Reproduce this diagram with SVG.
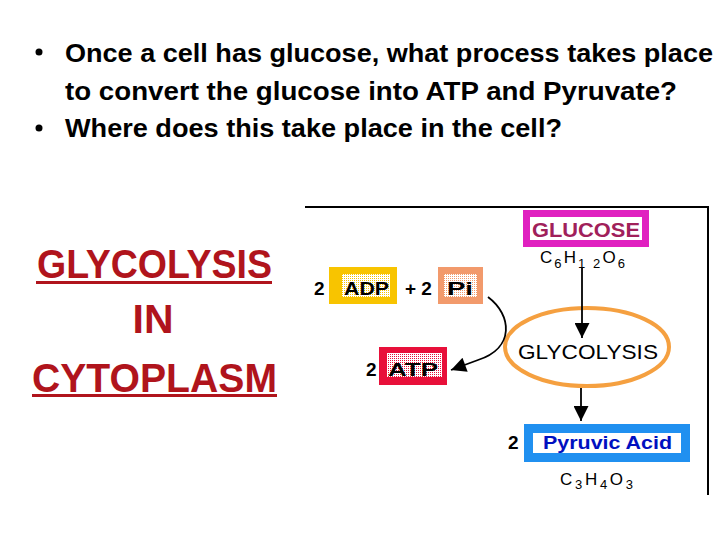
<svg xmlns="http://www.w3.org/2000/svg" width="720" height="540" viewBox="0 0 720 540">
<style>
.hdr{font-family:"Liberation Sans",Arial,sans-serif;font-weight:bold;font-size:25px;fill:#000}
.big{font-family:"Liberation Sans",Arial,sans-serif;font-weight:bold;font-size:41px;fill:#B0141C}
.lbl{font-family:"Liberation Sans",Arial,sans-serif;font-weight:bold;font-size:19px;fill:#000}
.frm{font-family:"Liberation Sans",Arial,sans-serif;font-size:17px;fill:#000}
.sub{font-size:13px}
.conn{fill:none;stroke:#000;stroke-width:1.8}
</style>
<defs>
<pattern id="dotY" width="2" height="2" patternUnits="userSpaceOnUse"><rect width="2" height="2" fill="#fff"/><rect width="1" height="1" fill="#F8C400"/></pattern>
<pattern id="dotP" width="2" height="2" patternUnits="userSpaceOnUse"><rect width="2" height="2" fill="#fff"/><rect width="1" height="1" fill="#F29A6C"/></pattern>
<pattern id="dotR" width="2" height="2" patternUnits="userSpaceOnUse"><rect width="2" height="2" fill="#fff"/><rect width="1" height="1" fill="#E8103A"/></pattern>
<marker id="ah" viewBox="0 0 10 10" refX="10" refY="5" markerUnits="userSpaceOnUse" markerWidth="21" markerHeight="15" orient="auto"><path d="M0,0 L10,5 L0,10 z" fill="#000"/></marker>
</defs>
<rect width="720" height="540" fill="#fff"/>

<g id="header">
<circle cx="39" cy="52" r="3.5" fill="#000"/>
<text class="hdr" x="65" y="62" textLength="648" lengthAdjust="spacingAndGlyphs">Once a cell has glucose, what process takes place</text>
<text class="hdr" x="65" y="100" textLength="612" lengthAdjust="spacingAndGlyphs">to convert the glucose into ATP and Pyruvate?</text>
<circle cx="39" cy="128" r="3.5" fill="#000"/>
<text class="hdr" x="65" y="137" textLength="497" lengthAdjust="spacingAndGlyphs">Where does this take place in the cell?</text>
</g>

<g id="answer">
<text class="big" x="37" y="278" textLength="235" lengthAdjust="spacingAndGlyphs">GLYCOLYSIS</text>
<rect x="36" y="281" width="236" height="3" fill="#B0141C"/>
<text class="big" x="153" y="333" text-anchor="middle">IN</text>
<text class="big" x="32" y="392" textLength="245" lengthAdjust="spacingAndGlyphs">CYTOPLASM</text>
<rect x="32" y="394" width="245" height="3" fill="#B0141C"/>
</g>

<g id="frame">
<path d="M305,207 H708 V495" fill="none" stroke="#000" stroke-width="2"/>
</g>

<g id="glucose">
<rect x="526.5" y="213.5" width="119" height="30" fill="#fff" stroke="#E020C0" stroke-width="7"/>
<text x="532" y="237" textLength="108" lengthAdjust="spacingAndGlyphs" style="font-family:'Liberation Sans',Arial,sans-serif;font-weight:bold;font-size:20px;fill:#A0205A">GLUCOSE</text>
<text class="frm" x="540" y="263" textLength="85" lengthAdjust="spacing">C<tspan class="sub" dy="5">6</tspan><tspan dy="-5">H</tspan><tspan class="sub" dy="5">1 2</tspan><tspan dy="-5">O</tspan><tspan class="sub" dy="5">6</tspan></text>
</g>

<g id="adp">
<text class="lbl" x="314" y="295">2</text>
<rect x="329" y="267" width="68" height="37" fill="#F8C400"/>
<rect x="342" y="274" width="48" height="23" fill="url(#dotY)"/>
<text class="lbl" x="344" y="295" textLength="45" lengthAdjust="spacingAndGlyphs">ADP</text>
</g>

<g id="plus">
<text class="lbl" x="405" y="295">+ 2</text>
</g>

<g id="pi">
<rect x="438" y="267" width="45" height="37" fill="#F29A6C"/>
<rect x="444" y="274" width="33" height="23" fill="url(#dotP)"/>
<text class="lbl" x="447" y="295" textLength="26" lengthAdjust="spacingAndGlyphs">Pi</text>
</g>

<g id="atp">
<text class="lbl" x="366" y="376">2</text>
<rect x="379" y="347" width="68" height="38" fill="#E8103A"/>
<rect x="387" y="353" width="55" height="24" fill="url(#dotR)"/>
<text class="lbl" x="388" y="376" textLength="50" lengthAdjust="spacingAndGlyphs">ATP</text>
</g>

<g id="glycolysis">
<ellipse cx="587" cy="347" rx="82" ry="39" fill="none" stroke="#F5A040" stroke-width="4"/>
<text x="518" y="359" textLength="140" lengthAdjust="spacingAndGlyphs" style="font-family:'Liberation Sans',Arial,sans-serif;font-size:21px;fill:#000">GLYCOLYSIS</text>
</g>

<g id="pyruvic">
<text class="lbl" x="508" y="449">2</text>
<rect x="528.5" y="428.5" width="157" height="29" fill="#fff" stroke="#2090F0" stroke-width="9"/>
<text x="543" y="449" textLength="129" lengthAdjust="spacingAndGlyphs" style="font-family:'Liberation Sans',Arial,sans-serif;font-weight:bold;font-size:19px;fill:#0010C0">Pyruvic Acid</text>
<text class="frm" x="560" y="485" textLength="73" lengthAdjust="spacing">C<tspan class="sub" dy="4">3</tspan><tspan dy="-4">H</tspan><tspan class="sub" dy="4">4</tspan><tspan dy="-4">O</tspan><tspan class="sub" dy="4">3</tspan></text>
</g>

<g id="connectors">
<path class="conn" d="M582,268 V338" marker-end="url(#ah)"/>
<path class="conn" d="M581,388 V421" marker-end="url(#ah)"/>
<path class="conn" d="M488,297 C512,315 515,348 478,360 L451,370" marker-end="url(#ah)" stroke-width="1.3"/>
</g>
</svg>
